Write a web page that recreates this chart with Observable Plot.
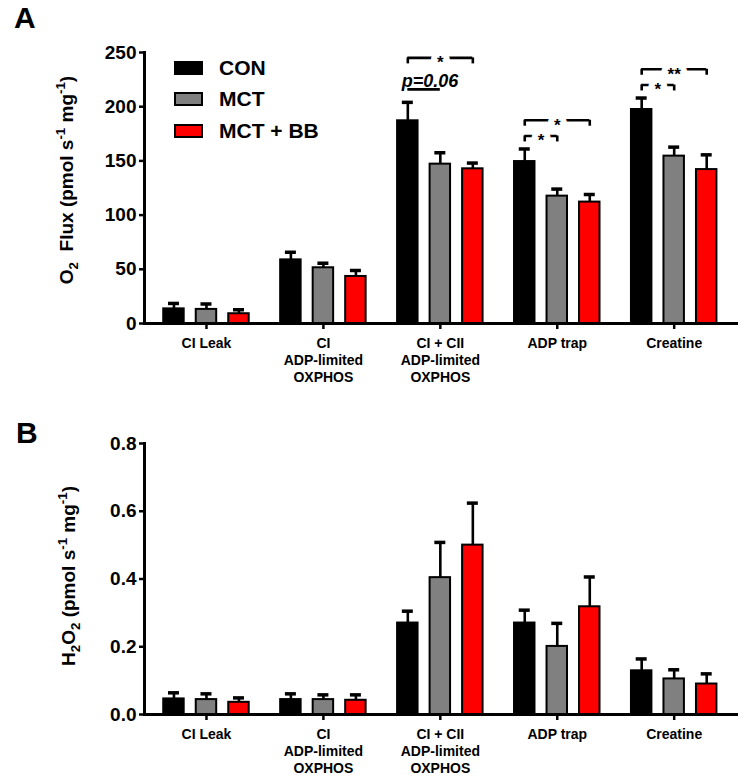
<!DOCTYPE html>
<html>
<head>
<meta charset="utf-8">
<script src="https://cdn.jsdelivr.net/npm/d3@7"></script>
<script src="https://cdn.jsdelivr.net/npm/@observablehq/plot@0.6"></script>
<style>
  body { margin: 0; background: #fff; font-family: "Liberation Sans", Arial, sans-serif; }
  #fig { position: relative; width: 746px; height: 776px; overflow: hidden; }
  .panel { position: absolute; left: 0; }
  .letter { position: absolute; font-weight: bold; font-size: 30px; line-height: 30px; }
  .ylab { position: absolute; font-weight: bold; font-size: 19px; white-space: nowrap; transform: translate(-50%, -50%) rotate(-90deg); }
  .ylab sub, .ylab sup { font-size: 0.7em; }
  .legend { position: absolute; left: 174px; top: 52px; }
  .legend .row { display: flex; align-items: center; height: 31.5px; }
  .legend .sw { width: 25px; height: 10px; border: 2px solid #000; margin-right: 16px; }
  .legend .lab { font-weight: bold; font-size: 21px; }
</style>
</head>
<body>
<div id="fig">
  <div id="panelA" class="panel" style="top:0px"></div>
  <div id="panelB" class="panel" style="top:391px"></div>
  <div class="letter" style="left:14px;top:3px">A</div>
  <div class="letter" style="left:16px;top:418px">B</div>
  <div class="ylab" style="left:67px;top:180px">O<sub>2</sub>&nbsp; Flux (pmol s<sup>-1</sup> mg<sup>-1</sup>)</div>
  <div class="ylab" style="left:69px;top:576px">H<sub>2</sub>O<sub>2</sub> (pmol s<sup>-1</sup> mg<sup>-1</sup>)</div>
  <div class="legend" id="legend"></div>
</div>
<script>
// ---------- data ----------
const categories = ["CI Leak", "CI\nADP-limited\nOXPHOS", "CI + CII\nADP-limited\nOXPHOS", "ADP trap", "Creatine"];
const groups = ["CON", "MCT", "MCT + BB"];
const groupColors = ["#000000", "#808080", "#ff0000"];

// Panel A: O2 flux (pmol s-1 mg-1), mean and SEM
const o2Con     = [13.5, 58.7, 187, 149.4, 197.4];
const o2ConSem  = [5, 7, 17, 11.6, 10.6];
const o2Mct     = [13, 51.4, 147, 117.5, 154.4];
const o2MctSem  = [5, 4.2, 10.5, 6.5, 8.3];
const o2Bb      = [9, 43.4, 142.7, 112, 142];
const o2BbSem   = [3.7, 5.5, 5.3, 7, 13.6];

// Panel B: H2O2 (pmol s-1 mg-1), mean and SEM
const h2Con     = [0.046, 0.044, 0.27, 0.27, 0.129];
const h2ConSem  = [0.018, 0.017, 0.035, 0.038, 0.035];
const h2Mct     = [0.044, 0.044, 0.404, 0.201, 0.105];
const h2MctSem  = [0.017, 0.014, 0.104, 0.068, 0.027];
const h2Bb      = [0.036, 0.042, 0.50, 0.318, 0.09];
const h2BbSem   = [0.013, 0.016, 0.124, 0.088, 0.03];

const o2Ticks = [0, 50, 100, 150, 200, 250];
const h2Ticks = [0, 0.2, 0.4, 0.6, 0.8];

// Panel A significance comparisons
const sigCategory = ["CI + CII\nADP-limited\nOXPHOS", "ADP trap", "ADP trap", "Creatine", "Creatine"];
const sigFrom     = ["CON", "CON", "CON", "CON", "CON"];
const sigTo       = ["MCT + BB", "MCT", "MCT + BB", "MCT", "MCT + BB"];
const sigLabel    = ["*", "*", "*", "*", "**"];
const sigLevel    = [2, 0, 1, 0, 1];
const trendCategory = "CI + CII\nADP-limited\nOXPHOS";
const trendFrom = "CON", trendTo = "MCT", trendLabel = "p=0.06", trendLevel = 0;

// ---------- layout constants ----------
const groupStep = 0.278, barHalf = 0.0875, capHalf = 0.047;
const pos = (cat, grp) => categories.indexOf(cat) + (groups.indexOf(grp) - 1) * groupStep;

function tidy(means, sems) {
  const rows = [];
  categories.forEach((c, i) => groups.forEach((g, j) => {
    rows.push({category: c, group: g, x: pos(c, g), mean: means[j][i], top: means[j][i] + sems[j][i]});
  }));
  return rows;
}
const rowsA = tidy([o2Con, o2Mct, o2Bb], [o2ConSem, o2MctSem, o2BbSem]);
const rowsB = tidy([h2Con, h2Mct, h2Bb], [h2ConSem, h2MctSem, h2BbSem]);

const topOf = (rows, c, g) => rows.find(d => d.category === c && d.group === g).top;
const bracketY = (c, a, b, level) => Math.max(topOf(rowsA, c, a), topOf(rowsA, c, b)) + 12 + level * 14.5;
const sigRows = sigCategory.map((c, i) => {
  const x1 = pos(c, sigFrom[i]), x2 = pos(c, sigTo[i]);
  return {x1, x2, xm: (x1 + x2) / 2, y: bracketY(c, sigFrom[i], sigTo[i], sigLevel[i]), label: sigLabel[i]};
});
const trendRow = (() => {
  const x1 = pos(trendCategory, trendFrom), x2 = pos(trendCategory, trendTo);
  return {x1, x2, xm: (x1 + x2) / 2, y: bracketY(trendCategory, trendFrom, trendTo, trendLevel), label: trendLabel};
})();

const font = '"Liberation Sans", Arial, sans-serif';

function panel(rows, yDomain, ticks, fmt, height, extra) {
  return Plot.plot({
    width: 746, height,
    marginTop: 52, marginBottom: height - 52 - 271, marginLeft: 144, marginRight: 8,
    style: {fontFamily: font, color: "black", background: "transparent", overflow: "visible"},
    x: {domain: [-0.53, 4.55], axis: null},
    y: {domain: yDomain, axis: null},
    color: {domain: groups, range: groupColors},
    marks: [
      Plot.ruleX(rows, {x: "x", y1: "mean", y2: "top", stroke: "black", strokeWidth: 2.6}),
      Plot.ruleY(rows, {x1: d => d.x - capHalf, x2: d => d.x + capHalf, y: "top", stroke: "black", strokeWidth: 3.5}),
      Plot.rect(rows, {x1: d => d.x - barHalf, x2: d => d.x + barHalf, y1: 0, y2: "mean", fill: "group", stroke: "black", strokeWidth: 2}),
      Plot.ruleY([0], {stroke: "black", strokeWidth: 3}),
      Plot.frame({anchor: "left", stroke: "black", strokeWidth: 3}),
      Plot.axisY({ticks, tickFormat: fmt, tickSize: 5, tickPadding: 3, strokeWidth: 2.5, fontSize: 19, fontWeight: "bold", label: null}),
      Plot.axisX({ticks: d3.range(categories.length), tickFormat: i => categories[i], tickSize: 6, tickPadding: 7,
        strokeWidth: 2.5, fontSize: 14, fontWeight: "bold", lineHeight: 1.2, label: null}),
      ...extra
    ]
  });
}

const annotations = [
  Plot.ruleY(sigRows, {x1: "x1", x2: "x2", y: "y", stroke: "black", strokeWidth: 2.6}),
  Plot.ruleX(sigRows, {x: "x1", y1: d => d.y - 5.5, y2: "y", stroke: "black", strokeWidth: 2.6}),
  Plot.ruleX(sigRows, {x: "x2", y1: d => d.y - 5.5, y2: "y", stroke: "black", strokeWidth: 2.6}),
  Plot.text(sigRows, {x: "xm", y: "y", text: "label", fontSize: 17, fontWeight: "bold", fill: "black", stroke: "white", strokeWidth: 12, dy: 5}),
  Plot.ruleY([trendRow], {x1: "x1", x2: "x2", y: "y", stroke: "black", strokeWidth: 2.6}),
  Plot.text([trendRow], {x: "xm", y: "y", text: "label", fontSize: 18, fontWeight: "bold", fontStyle: "italic", fill: "black", lineAnchor: "bottom", dy: -2, dx: 6})
];

document.getElementById("panelA").append(panel(rowsA, [0, 250], o2Ticks, d3.format("d"), 390, annotations));
document.getElementById("panelB").append(panel(rowsB, [0, 0.8], h2Ticks, d3.format(".1f"), 385, []));

const legend = d3.select("#legend");
groups.forEach((g, i) => {
  const row = legend.append("div").attr("class", "row");
  row.append("div").attr("class", "sw").style("background", groupColors[i]);
  row.append("div").attr("class", "lab").text(g);
});
</script>
</body>
</html>
